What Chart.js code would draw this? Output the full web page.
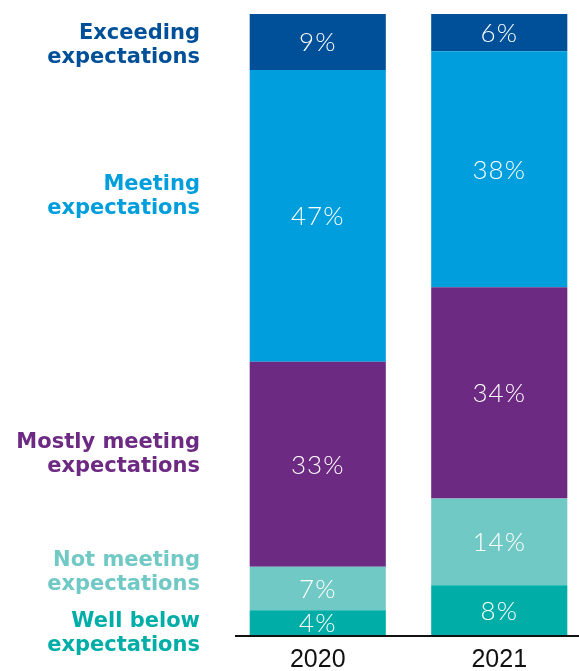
<!DOCTYPE html>
<html>
<head>
<meta charset="utf-8">
<script src="https://cdn.jsdelivr.net/npm/chart.js@4/dist/chart.umd.min.js"></script>
<style>
  body { margin: 0; background: #fff; overflow: hidden; }
  #wrap { width: 590px; height: 671px; position: relative; }
</style>
</head>
<body>
<div id="wrap"><canvas id="myChart"></canvas></div>
<script>
// data, bottom of the stack first
const years = ['2020', '2021'];
const categories = ['Well below\nexpectations', 'Not meeting\nexpectations', 'Mostly meeting\nexpectations', 'Meeting\nexpectations', 'Exceeding\nexpectations'];
const wellBelow = [4, 8];
const notMeeting = [7, 14];
const mostlyMeeting = [33, 34];
const meeting = [47, 38];
const exceeding = [9, 6];

const colors = ['#00ada7', '#71c9c5', '#6d2a83', '#009edc', '#005099'];
// where the side labels sit, in % units of the y axis
const labelAt = [0.3, 10.0, 29.0, 70.6, 95.0];

const series = [wellBelow, notMeeting, mostlyMeeting, meeting, exceeding];

const sideLabels = {
    id: 'sideLabels',
    afterDatasetsDraw(chart) {
        const ctx = chart.ctx;
        const y = chart.scales.y;
        const area = chart.chartArea;
        ctx.save();

        // base line
        ctx.strokeStyle = '#111';
        ctx.lineWidth = 2;
        ctx.beginPath();
        ctx.moveTo(235, area.bottom + 1);
        ctx.lineTo(590, area.bottom + 1);
        ctx.stroke();

        // category names on the left
        ctx.font = 'bold 21px "DejaVu Sans"';
        ctx.textAlign = 'right';
        ctx.textBaseline = 'middle';
        categories.forEach((name, i) => {
            const lines = name.split('\n');
            const cy = y.getPixelForValue(labelAt[i]);
            ctx.fillStyle = colors[i];
            lines.forEach((l, j) => {
                ctx.fillText(l, 200, cy + (j - (lines.length - 1) / 2) * 24);
            });
        });

        // values inside the bars
        ctx.font = '300 26px Lato, "Open Sans", sans-serif';
        ctx.letterSpacing = '1px';
        ctx.textAlign = 'center';
        ctx.fillStyle = '#fff';
        chart.data.datasets.forEach((ds, i) => {
            chart.getDatasetMeta(i).data.forEach((bar, k) => {
                const mid = (bar.y + bar.base) / 2;
                ctx.fillText(ds.data[k] + '%', bar.x, mid + 1);
            });
        });
        ctx.restore();
    }
};

new Chart(document.getElementById('myChart'), {
    type: 'bar',
    data: {
        labels: years,
        datasets: series.map((vals, i) => ({
            label: categories[i],
            data: vals,
            backgroundColor: colors[i],
            borderWidth: 0,
            barPercentage: 0.75,
            categoryPercentage: 1
        }))
    },
    options: {
        responsive: true,
        maintainAspectRatio: false,
        animation: false,
        layout: { padding: { left: 227, top: 14, right: 0, bottom: 0 } },
        plugins: { legend: { display: false }, tooltip: { enabled: false } },
        scales: {
            x: {
                stacked: true,
                grid: { display: false, drawTicks: false },
                border: { display: false },
                ticks: { color: '#111', font: { family: '"Liberation Sans", Arial', size: 25 }, padding: 10 },
                afterFit: s => { s.height = 36; }
            },
            y: {
                stacked: true,
                display: false,
                min: 0,
                max: 100
            }
        }
    },
    plugins: [sideLabels]
});
</script>
</body>
</html>
